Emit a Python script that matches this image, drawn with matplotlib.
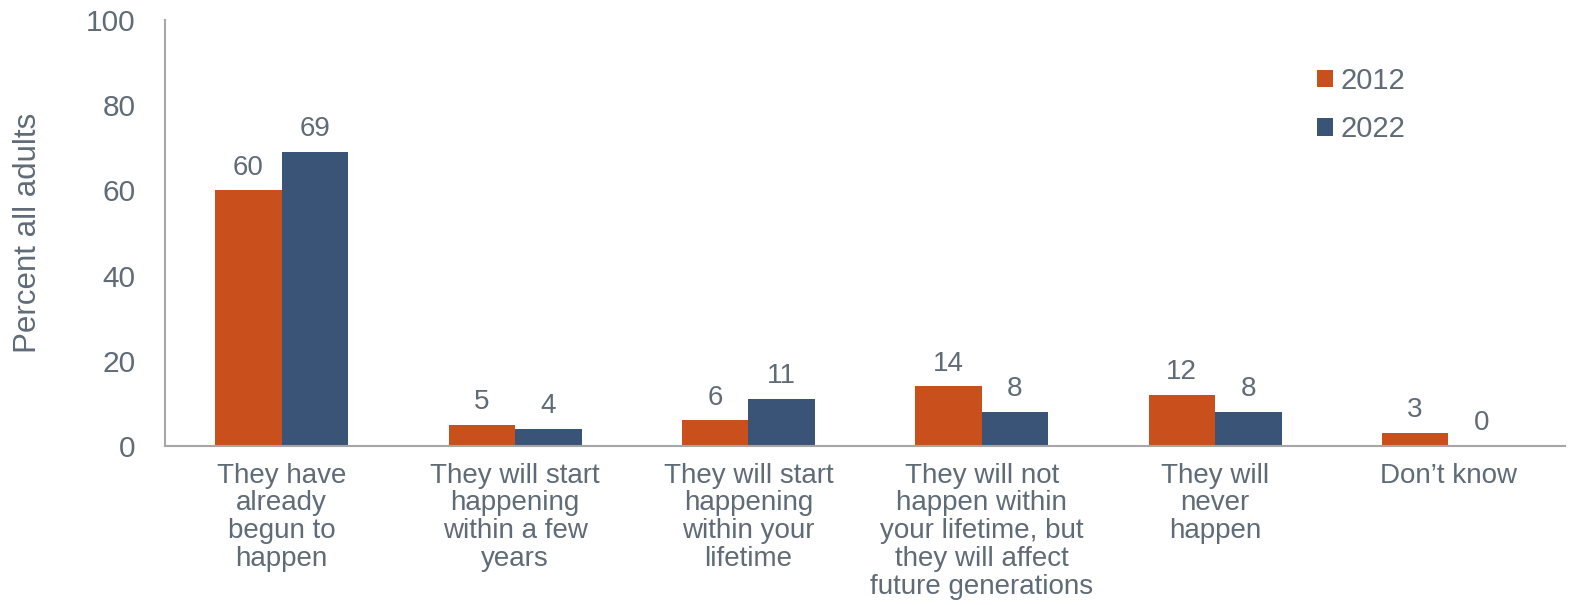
import matplotlib.pyplot as plt
import numpy as np

plt.rcParams['font.family'] = ['Liberation Sans', 'DejaVu Sans']

categories = ['They have\nalready\nbegun to\nhappen',
              'They will start\nhappening\nwithin a few\nyears',
              'They will start\nhappening\nwithin your\nlifetime',
              'They will not\nhappen within\nyour lifetime, but\nthey will affect\nfuture generations',
              'They will\nnever\nhappen',
              'Don\u2019t know']
vals_2012 = [60, 5, 6, 14, 12, 3]
vals_2022 = [69, 4, 11, 8, 8, 0]
series_names = ['2012', '2022']

c2012 = '#C9501C'
c2022 = '#3A5478'
txt = '#5F6B77'
spine = '#A6A6A6'

fig = plt.figure(figsize=(15.7, 6.05), dpi=100)
ax = fig.add_axes([165 / 1570, 1 - 446 / 605, 1400 / 1570, 426 / 605])

x = np.arange(len(categories))
w = 0.285
b1 = ax.bar(x - w / 2, vals_2012, w, color=c2012, label=series_names[0])
b2 = ax.bar(x + w / 2, vals_2022, w, color=c2022, label=series_names[1])

# value labels above each bar
for bars in (b1, b2):
    for r in bars:
        h = r.get_height()
        ax.annotate(f'{h:g}', (r.get_x() + r.get_width() / 2, h),
                    xytext=(0, 7), textcoords='offset points',
                    ha='center', va='bottom', fontsize=20, color=txt)

ax.set_xlim(-0.5, len(categories) - 0.5)
ax.set_ylim(0, 100)
ax.set_yticks(range(0, 101, 20))
ax.set_xticks(x)
ax.set_xticklabels(categories, fontsize=20, color=txt, linespacing=1.09)
ax.tick_params(axis='y', length=0, labelsize=21.5, labelcolor=txt, pad=21)
ax.tick_params(axis='x', length=0, pad=12)
ax.set_ylabel('Percent all adults', fontsize=22.5, color=txt)
ax.yaxis.set_label_coords(-0.087, 0.5)

for s in ('top', 'right'):
    ax.spines[s].set_visible(False)
for s in ('left', 'bottom'):
    ax.spines[s].set_color(spine)
    ax.spines[s].set_linewidth(1.5)

leg = ax.legend(loc='center left', bbox_to_anchor=((1317 - 165) / 1400, (446 - 105) / 426),
                frameon=False, fontsize=21, handlelength=0.55, handleheight=0.55,
                handletextpad=0.25, labelspacing=0.7, labelcolor=txt,
                borderpad=0, borderaxespad=0)

fig.savefig('out.png', dpi=100)
